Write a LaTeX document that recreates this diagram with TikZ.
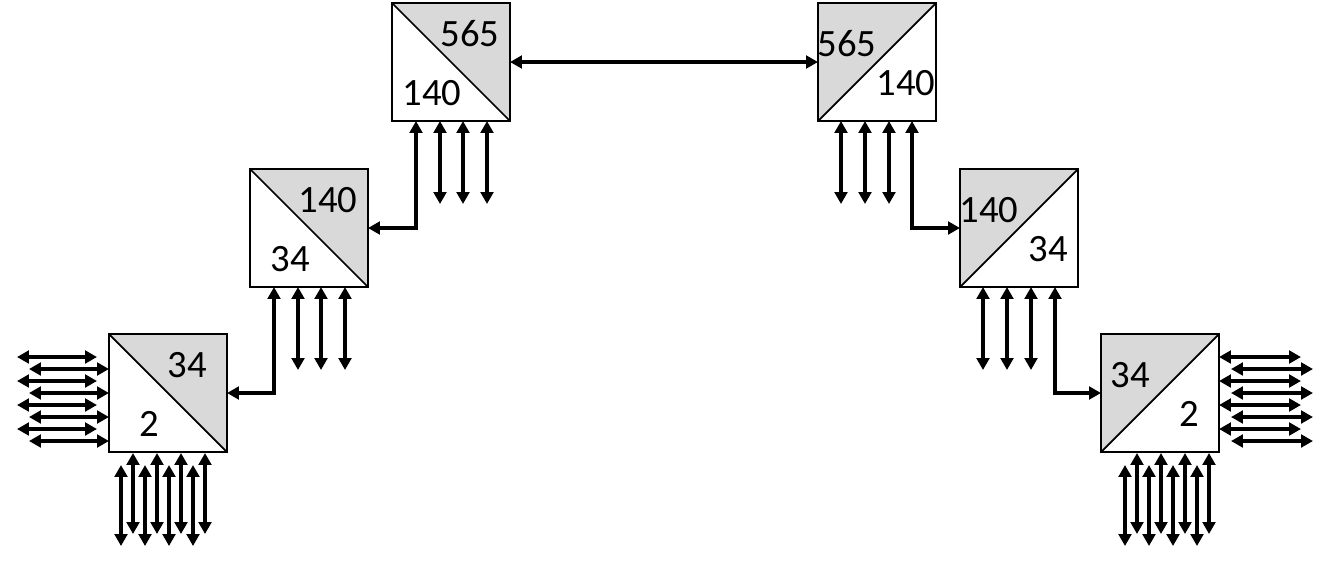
\documentclass[tikz,border=0pt]{standalone}
\usepackage{fontspec}
\setmainfont{Carlito}
\usetikzlibrary{arrows.meta}
\begin{document}
\begin{tikzpicture}[x=0.01cm,y=-0.01cm,
  conn/.style={line width=1.1pt,{Triangle[width=3.6pt,length=3.4pt]}-{Triangle[width=3.6pt,length=3.4pt]}},
  boxframe/.style={draw,line width=0.5pt},
  lab/.style={font=\fontsize{11pt}{13pt}\selectfont,inner sep=0pt}]
\useasboundingbox (0,0) rectangle (1330,563);
% left boxes: diag TL-BR, gray upper right
\foreach \n/\x/\y/\a/\b in {b1/109/334/34/2, b2/250/169/140/34, b3/392/3/565/140}{
  \fill[gray!30] (\x,\y) -- (\x+118,\y) -- (\x+118,\y+118) -- cycle;
  \draw[boxframe] (\x,\y) rectangle (\x+118,\y+118);
  \draw[line width=0.5pt] (\x,\y) -- (\x+118,\y+118);
  \node[lab] (\n a) at (\x+78,\y+31) {\a};
  \node[lab] (\n b) at (\x+40,\y+90) {\b};
}
% right boxes: diag BL-TR, gray upper left
\foreach \n/\x/\y/\a/\b in {b4/818/3/565/140, b5/960/169/140/34, b6/1101/334/34/2}{
  \fill[gray!30] (\x,\y) -- (\x+118,\y) -- (\x,\y+118) -- cycle;
  \draw[boxframe] (\x,\y) rectangle (\x+118,\y+118);
  \draw[line width=0.5pt] (\x,\y+118) -- (\x+118,\y);
  \node[lab] (\n a) at (\x+29,\y+41) {\a};
  \node[lab] (\n b) at (\x+88,\y+80) {\b};
}
\coordinate (b3e) at (510,62); \coordinate (b4w) at (818,62);
\draw[conn] (b3e) -- (b4w);
% elbows
\draw[conn] (416,121) -- (416,228) -- (368,228);
\draw[conn] (274,287) -- (274,393) -- (227,393);
\draw[conn] (912,121) -- (912,228) -- (960,228);
\draw[conn] (1055,287) -- (1055,393) -- (1101,393);
% triple verticals
\foreach \x in {440,463,487} \draw[conn] (\x,121) -- (\x,204);
\foreach \x in {298,321,345} \draw[conn] (\x,287) -- (\x,370);
\foreach \x in {841,865,889} \draw[conn] (\x,121) -- (\x,204);
\foreach \x in {983,1007,1031} \draw[conn] (\x,287) -- (\x,370);
% bottom bundles
\foreach \x in {121,145,169,193} \draw[conn] (\x,465) -- (\x,546);
\foreach \x in {133,157,181,205} \draw[conn] (\x,453) -- (\x,534);
\foreach \x in {1125,1149,1173,1197} \draw[conn] (\x,465) -- (\x,546);
\foreach \x in {1137,1161,1185,1209} \draw[conn] (\x,453) -- (\x,534);
% side bundles
\foreach \y in {357,381,405,429} \draw[conn] (17,\y) -- (97,\y);
\foreach \y in {369,393,417,441} \draw[conn] (29,\y) -- (109,\y);
\foreach \y in {357,381,405,429} \draw[conn] (1219,\y) -- (1301,\y);
\foreach \y in {369,393,417,441} \draw[conn] (1231,\y) -- (1313,\y);
\end{tikzpicture}
\end{document}
